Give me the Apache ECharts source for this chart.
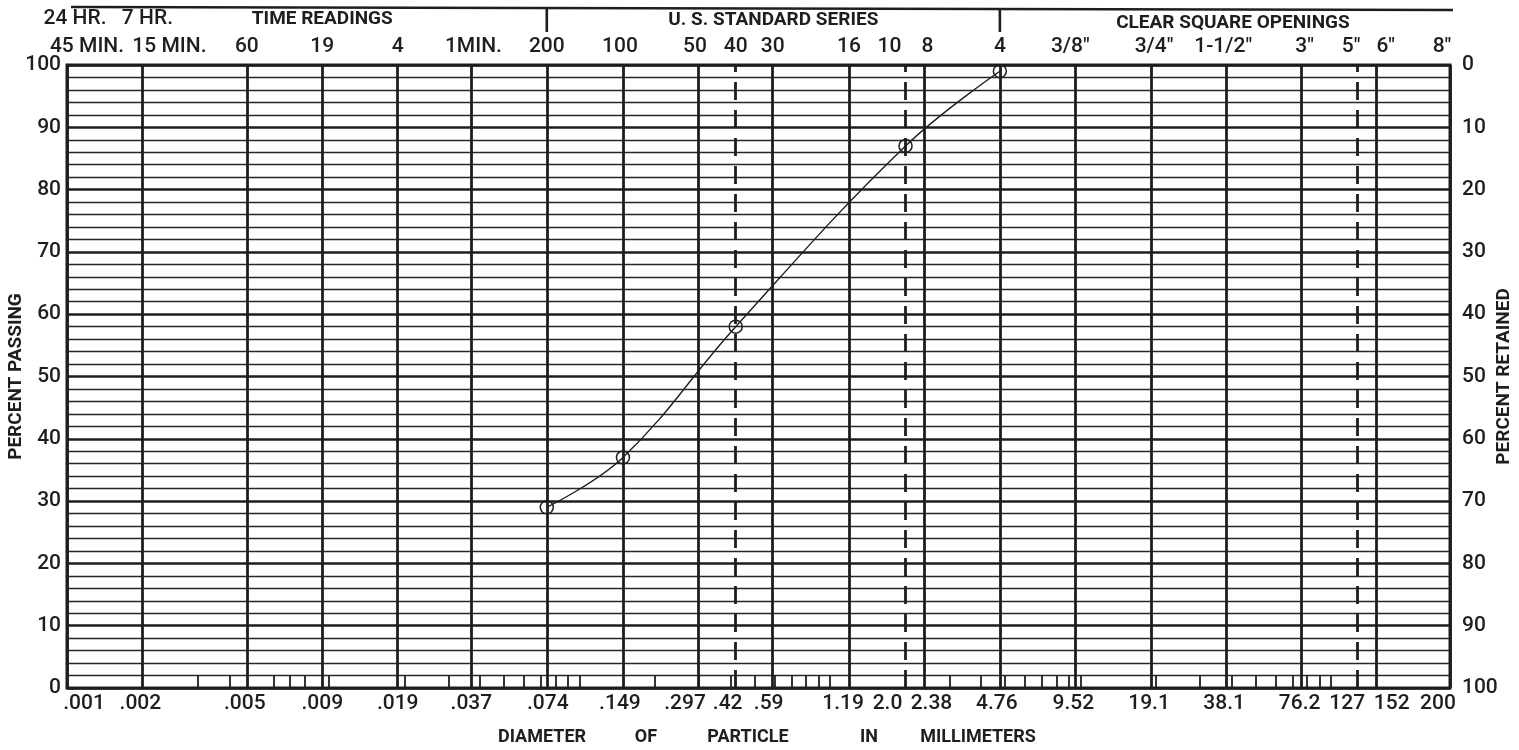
<!DOCTYPE html>
<html><head><meta charset="utf-8">
<script src="https://cdn.jsdelivr.net/npm/echarts@6/dist/echarts.min.js"></script>
<style>html,body{margin:0;padding:0;background:#fff}#c{width:1519px;height:750px}</style>
</head><body><div id="c"></div>
<script>
// ---------- data ----------
const sieveDiameters = [0.074, 0.149, 0.42, 2.0, 4.76];          // mm
const percentPassing = [29, 37, 58, 87, 99];                      // %

// vertical ruling of the chart paper (diameter in mm where each line sits)
const gridDiameters = [0.0009, 0.0018, 0.0047, 0.0094, 0.0188, 0.037, 0.074, 0.149, 0.297, 0.42, 0.59,
  1.19, 2.0, 2.38, 4.76, 9.52, 19.1, 38.1, 76.2, 127, 152, 298];
const dashedDiameters = [0.42, 2.0, 127];
const bottomLabels = ['.001', '.002', '.005', '.009', '.019', '.037', '.074', '.149', '.297', '.42', '.59',
  '1.19', '2.0', '2.38', '4.76', '9.52', '19.1', '38.1', '76.2', '127', '152', '200'];
const topLabels = ['45 MIN.', '15 MIN.', '60', '19', '4', '1MIN.', '200', '100', '50', '40', '30',
  '16', '10', '8', '4', '3/8"', '3/4"', '1-1/2"', '3"', '5"', '6"', '8"'];
const topLabelsUpper = ['24 HR.', '7 HR.'];
const headerGroups = ['TIME READINGS', 'U. S. STANDARD SERIES', 'CLEAR SQUARE OPENINGS'];
const minorTickDiameters = [0.003, 0.004, 0.006, 0.007, 0.008, 0.01, 0.02, 0.03, 0.04, 0.05, 0.06, 0.07,
  0.08, 0.09, 0.1, 0.2, 0.3, 0.4, 0.5, 0.6, 0.7, 0.8, 0.9, 1, 3, 4, 5, 6, 7, 8, 9, 10, 20, 30, 40, 50,
  60, 70, 80, 90, 100];
const yTickValues = [0, 10, 20, 30, 40, 50, 60, 70, 80, 90, 100];
const xTitleWords = ['DIAMETER', 'OF', 'PARTICLE', 'IN', 'MILLIMETERS'];

// ---------- layout / style ----------
const INK = '#1e1e1e';
const FONT = 'Roboto, "Liberation Sans", Arial, sans-serif';
const X_MIN = 0.0009, X_MAX = 298;
const bottomShift = [17, -2, -2, 0, 0, 0, 1, -3, -13, -8, -4, -6, -18, 7, -3, -2, -2, -2, -2, -10, 15, -12];
const topShift = [20, 27, 0, 0, 0, 2, 0, -3, -3, 0, 0, 0, -16, 3, 0, -5, 3, -3, 3, -6, 9, -8];
const upperShift = [8, 5];
const titleWordX = [542, 646, 748, 869, 978];

const chart = echarts.init(document.getElementById('c'));

const vLines = gridDiameters.map(d => [
  { coord: [d, 0], lineStyle: { color: INK, width: 2.8, type: dashedDiameters.includes(d) ? [18, 10] : 'solid' } },
  { coord: [d, 100] }
]);
const minorTicks = minorTickDiameters.map(d => [
  { coord: [d, 0], lineStyle: { color: INK, width: 1.8, type: 'solid' } },
  { coord: [d, 2] }
]);

const yLabelStyle = { color: INK, fontSize: 21, fontWeight: 500, fontFamily: FONT };
const nameStyle = { color: INK, fontSize: 19, fontWeight: 'bold', fontFamily: FONT };

chart.setOption({
  animation: false,
  backgroundColor: '#fff',
  grid: { left: 67, right: 69, top: 65, bottom: 62, show: true, borderColor: INK, borderWidth: 3,
    backgroundColor: 'transparent', containLabel: false, outerBoundsMode: 'none' },
  xAxis: {
    type: 'log', logBase: 10, min: X_MIN, max: X_MAX,
    axisLine: { show: false }, axisTick: { show: false }, axisLabel: { show: false }, splitLine: { show: false }
  },
  yAxis: [
    {
      type: 'value', min: 0, max: 100, interval: 10, position: 'left',
      name: 'PERCENT PASSING', nameLocation: 'middle', nameRotate: 90, nameGap: 41, nameMoveOverlap: false,
      nameTextStyle: nameStyle,
      axisLine: { show: false }, axisTick: { show: false },
      axisLabel: Object.assign({ margin: 6 }, yLabelStyle),
      splitLine: { show: true, lineStyle: { color: INK, width: 2.6 } },
      minorTick: { show: false, splitNumber: 5 },
      minorSplitLine: { show: true, lineStyle: { color: '#262626', width: 1.4 } }
    },
    {
      type: 'value', min: 0, max: 100, interval: 10, position: 'right', inverse: true,
      name: 'PERCENT RETAINED', nameLocation: 'middle', nameRotate: 90, nameGap: 45, nameMoveOverlap: false,
      nameTextStyle: nameStyle,
      axisLine: { show: false }, axisTick: { show: false },
      axisLabel: Object.assign({ margin: 12 }, yLabelStyle),
      splitLine: { show: false }
    }
  ],
  series: [
    {
      type: 'line', data: [], z: 1, silent: true,
      markLine: { symbol: ['none', 'none'], silent: true, animation: false, label: { show: false },
        data: vLines.concat(minorTicks) }
    },
    {
      type: 'line', z: 5,
      data: sieveDiameters.map((d, i) => [d, percentPassing[i]]),
      smooth: 0.4,
      symbol: 'circle', symbolSize: 13,
      lineStyle: { color: INK, width: 1.4 },
      itemStyle: { color: 'rgba(255,255,255,0)', borderColor: INK, borderWidth: 1.5 }
    }
  ]
});

// ---------- header / footer text placed through the x scale ----------
const px = d => chart.convertToPixel({ xAxisIndex: 0 }, d);
const graphics = [];
const txt = (text, x, y, font, align) => graphics.push({
  type: 'text', silent: true,
  style: { text, x, y, fill: INK, font, align: align || 'center', verticalAlign: 'middle' }
});
const numFont = '500 21px ' + FONT;
const boldFont = 'bold 19px ' + FONT;

gridDiameters.forEach((d, i) => {
  const x = px(d);
  txt(bottomLabels[i], x + bottomShift[i], 704, numFont);
  txt(topLabels[i], x + topShift[i], 47, numFont);
});
topLabelsUpper.forEach((t, i) => txt(t, px(gridDiameters[i]) + upperShift[i], 19, numFont));

const xLeft = px(gridDiameters[0]), xRight = px(gridDiameters[gridDiameters.length - 1]);
const xSep1 = px(0.074), xSep2 = px(4.76);
txt(headerGroups[0], px(0.0094), 19, boldFont);
txt(headerGroups[1], (xSep1 + xSep2) / 2, 20, boldFont);
txt(headerGroups[2], (xSep2 + xRight) / 2 + 8, 23, boldFont);

xTitleWords.forEach((w, i) => txt(w, titleWordX[i], 737, 'bold 18px ' + FONT));

graphics.push({ type: 'line', silent: true, shape: { x1: xLeft + 4, y1: 7, x2: xRight + 3, y2: 10 },
  style: { stroke: INK, lineWidth: 2.6 } });
[xSep1, xSep2].forEach(x => graphics.push({ type: 'line', silent: true,
  shape: { x1: x, y1: 8, x2: x, y2: 32 }, style: { stroke: INK, lineWidth: 2.6 } }));

chart.setOption({ graphic: graphics });
</script></body></html>
